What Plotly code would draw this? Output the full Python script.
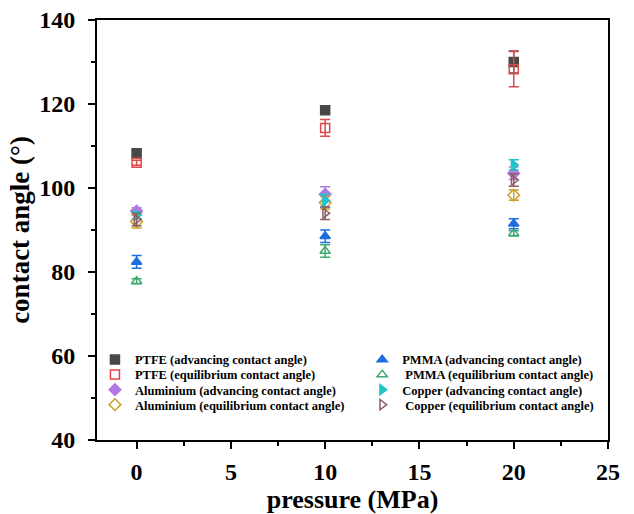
import plotly.graph_objects as go

pressure = [0, 10, 20]

names = [
    "PTFE (advancing contact angle)",
    "PTFE (equilibrium contact angle)",
    "Aluminium (advancing contact angle)",
    "Aluminium (equilibrium contact angle)",
    "PMMA (advancing contact angle)",
    " PMMA (equilibrium contact angle)",
    "Copper (advancing contact angle)",
    " Copper (equilibrium contact angle)",
]
values = [
    [108.3, 118.5, 130.0],   # PTFE adv
    [106.0, 114.3, 128.3],   # PTFE eq
    [94.5, 98.5, 103.5],     # Al adv
    [92.0, 96.5, 98.3],      # Al eq
    [82.4, 88.5, 91.5],      # PMMA adv
    [77.8, 85.0, 89.2],      # PMMA eq
    [93.5, 97.0, 105.5],     # Cu adv
    [92.5, 94.0, 101.9],     # Cu eq
]
errors = [
    [0.6, 0.6, 2.6],
    [0.6, 2.0, 4.2],
    [0.8, 1.8, 1.5],
    [1.5, 1.5, 1.2],
    [1.5, 1.5, 1.2],
    [0.6, 1.5, 0.6],
    [0.8, 1.5, 1.2],
    [1.5, 1.5, 1.5],
]
symbols = ["square", "square-open", "diamond", "diamond-open",
           "triangle-up", "triangle-up-open", "triangle-right", "triangle-right-open"]
colors = ["#484848", "#e0464a", "#b27ae0", "#c9a227",
          "#1f6ee0", "#3daa6e", "#22c2c8", "#8c5e62"]

# legend slot positions (paper coords): column x, row y
leg_x = [-0.004, -0.004, -0.004, -0.004, 0.519, 0.519, 0.519, 0.519]
leg_y = [0.1905, 0.1548, 0.119, 0.0833, 0.1905, 0.1548, 0.119, 0.0833]

fig = go.Figure()
legend_layout = {}
for i, (n, v, e, s, c) in enumerate(zip(names, values, errors, symbols, colors)):
    lname = "legend" if i == 0 else f"legend{i+1}"
    fig.add_trace(go.Scatter(
        x=pressure, y=v, mode="markers", name=n, legend=lname,
        marker=dict(symbol=s, color=c, size=9, line=dict(width=1.5, color=c)),
        error_y=dict(type="data", array=e, visible=True, color=c, thickness=1.5, width=5),
    ))
    legend_layout[lname] = dict(
        x=leg_x[i], y=leg_y[i], xanchor="left", yanchor="middle",
        font=dict(family="Liberation Serif", size=12.5, color="black", weight="bold"),
        bgcolor="rgba(0,0,0,0)", itemwidth=30,
    )

axis_common = dict(
    showline=True, linecolor="black", linewidth=2, mirror=True,
    ticks="outside", ticklen=7, tickwidth=2, tickcolor="black",
    showgrid=False, zeroline=False, automargin=False,
    tickfont=dict(family="Liberation Serif", size=24, color="black", weight="bold"),
    minor=dict(ticks="outside", ticklen=4, tickwidth=1.5, tickcolor="black"),
)

fig.update_xaxes(range=[-2.1, 25], dtick=5, minor_dtick=2.5, ticklabelstandoff=2,
                 title=dict(text="pressure (MPa)", standoff=7,
                            font=dict(family="Liberation Serif", size=26, color="black", weight="bold")),
                 **axis_common)
fig.update_yaxes(range=[40, 140], dtick=20, minor_dtick=10, ticklabelstandoff=8,
                 title=dict(text="contact angle (°)", standoff=2,
                            font=dict(family="Liberation Serif", size=27, color="black", weight="bold")),
                 **axis_common)

fig.update_layout(
    width=634, height=514,
    margin=dict(l=97, r=26, t=20, b=74),
    plot_bgcolor="white", paper_bgcolor="white",
    showlegend=True,
    **legend_layout,
)

fig.write_html("out.html")
